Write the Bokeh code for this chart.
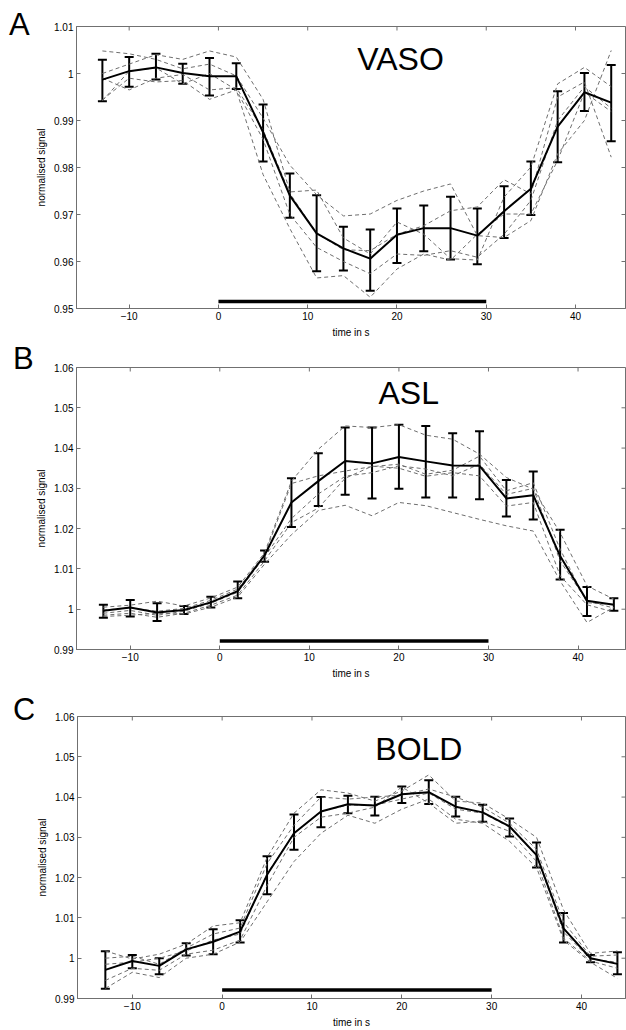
import math
from bokeh.plotting import figure
from bokeh.layouts import column, row
from bokeh.models import (ColumnDataSource, Whisker, TeeHead, FixedTicker,
                          CustomJSTickFormatter, Label, Range1d, Div)
from bokeh.embed import file_html
from bokeh.resources import INLINE

# ---------------- data ----------------
time_s = [-13, -10, -7, -4, -1, 2, 5, 8, 11, 14, 17, 20, 23, 26, 29, 32, 35, 38, 41, 44]
x_ticks = [-10, 0, 10, 20, 30, 40]
stim_on = [0, 30]

# VASO
vaso_mean = [0.9987, 1.0005, 1.0013, 1.0001, 0.9994, 0.9994, 0.9875, 0.9740, 0.9660, 0.9628,
             0.9606, 0.9657, 0.9671, 0.9671, 0.9655, 0.9707, 0.9755, 0.9887, 0.9960, 0.9938]
vaso_upper = [1.0029, 1.0035, 1.0042, 1.0021, 1.0033, 1.0022, 0.9934, 0.9787, 0.9741, 0.9674,
              0.9668, 0.9713, 0.9719, 0.9738, 0.9713, 0.9760, 0.9813, 0.9962, 1.0001, 1.0018]
vaso_lower = [0.9941, 0.9972, 0.9987, 0.9978, 0.9953, 0.9967, 0.9813, 0.9693, 0.9579, 0.9581,
              0.9538, 0.9597, 0.9622, 0.9604, 0.9594, 0.9650, 0.9699, 0.9811, 0.9920, 0.9856]
vaso_subj_1 = [1.0048, 1.0042, 1.0030, 1.0010, 1.0020, 0.9995, 0.9905, 0.9805, 0.9742, 0.9697,
               0.9701, 0.9730, 0.9750, 0.9765, 0.9655, 0.9651, 0.9687, 0.9829, 0.9900, 1.0049]
vaso_subj_2 = [1.0000, 1.0020, 1.0040, 1.0030, 1.0048, 1.0035, 0.9945, 0.9748, 0.9752, 0.9650,
               0.9616, 0.9684, 0.9658, 0.9606, 0.9603, 0.9737, 0.9801, 0.9978, 1.0013, 0.9972]
vaso_subj_3 = [0.9990, 0.9965, 0.9990, 0.9998, 0.9965, 0.9970, 0.9880, 0.9745, 0.9660, 0.9625,
               0.9623, 0.9658, 0.9676, 0.9708, 0.9716, 0.9774, 0.9744, 0.9950, 0.9982, 0.9822]
vaso_subj_4 = [0.9944, 0.9990, 0.9982, 0.9985, 0.9945, 0.9965, 0.9860, 0.9700, 0.9630, 0.9600,
               0.9574, 0.9616, 0.9613, 0.9623, 0.9609, 0.9658, 0.9730, 0.9900, 0.9972, 0.9926]
vaso_subj_5 = [0.9942, 1.0005, 1.0012, 0.9978, 1.0000, 0.9965, 0.9785, 0.9670, 0.9565, 0.9570,
               0.9524, 0.9584, 0.9616, 0.9603, 0.9658, 0.9701, 0.9701, 0.9815, 0.9960, 0.9919]
vaso_yticks = [0.95, 0.96, 0.97, 0.98, 0.99, 1.0, 1.01]

# ASL
asl_mean = [0.9996, 1.0004, 0.9992, 0.9998, 1.0017, 1.0045, 1.0134, 1.0265, 1.0318, 1.0368,
            1.0362, 1.0378, 1.0367, 1.0357, 1.0356, 1.0275, 1.0283, 1.0132, 1.0021, 1.0011]
asl_upper = [1.0011, 1.0023, 1.0015, 1.0008, 1.0031, 1.0069, 1.0146, 1.0325, 1.0387, 1.0451,
             1.0451, 1.0458, 1.0455, 1.0437, 1.0442, 1.0321, 1.0342, 1.0197, 1.0055, 1.0027]
asl_lower = [0.9979, 0.9982, 0.9971, 0.9988, 1.0004, 1.0027, 1.0118, 1.0204, 1.0256, 1.0284,
             1.0275, 1.0299, 1.0277, 1.0277, 1.0273, 1.0230, 1.0223, 1.0074, 0.9983, 0.9996]
asl_subj_1 = [1.0005, 1.0010, 1.0020, 1.0008, 1.0028, 1.0055, 1.0140, 1.0318, 1.0397, 1.0455,
              1.0451, 1.0458, 1.0432, 1.0422, 1.0385, 1.0327, 1.0298, 1.0190, 1.0058, 1.0025]
asl_subj_2 = [0.9998, 1.0003, 0.9995, 1.0002, 1.0022, 1.0050, 1.0135, 1.0312, 1.0331, 1.0343,
              1.0354, 1.0360, 1.0335, 1.0345, 1.0380, 1.0294, 1.0314, 1.0149, 1.0016, 1.0012]
asl_subj_3 = [0.9990, 0.9997, 0.9985, 0.9995, 1.0015, 1.0042, 1.0130, 1.0225, 1.0286, 1.0330,
              1.0339, 1.0356, 1.0348, 1.0331, 1.0360, 1.0285, 1.0300, 1.0120, 1.0020, 1.0003]
asl_subj_4 = [0.9985, 0.9990, 0.9980, 0.9990, 1.0010, 1.0035, 1.0120, 1.0215, 1.0251, 1.0325,
              1.0355, 1.0350, 1.0330, 1.0339, 1.0331, 1.0256, 1.0265, 1.0083, 1.0011, 0.9993]
asl_subj_5 = [0.9982, 0.9985, 0.9990, 0.9988, 1.0005, 1.0030, 1.0112, 1.0185, 1.0245, 1.0258,
              1.0232, 1.0265, 1.0257, 1.0240, 1.0223, 1.0207, 1.0194, 1.0070, 0.9967, 1.0005]

# BOLD
bold_mean = [0.9971, 0.9993, 0.9981, 1.0022, 1.0041, 1.0066, 1.0207, 1.0310, 1.0364, 1.0382,
             1.0379, 1.0407, 1.0412, 1.0376, 1.0362, 1.0327, 1.0256, 1.0074, 1.0000, 0.9986]
bold_upper = [1.0017, 1.0008, 1.0000, 1.0037, 1.0072, 1.0094, 1.0253, 1.0357, 1.0400, 1.0403,
              1.0401, 1.0426, 1.0442, 1.0401, 1.0381, 1.0347, 1.0287, 1.0112, 1.0008, 1.0015]
bold_lower = [0.9924, 0.9975, 0.9960, 1.0007, 1.0010, 1.0039, 1.0159, 1.0269, 1.0325, 1.0360,
              1.0354, 1.0385, 1.0383, 1.0352, 1.0339, 1.0302, 1.0225, 1.0039, 0.9990, 0.9960]
bold_subj_1 = [1.0018, 0.9998, 1.0010, 1.0035, 1.0080, 1.0088, 1.0250, 1.0360, 1.0418, 1.0410,
               1.0390, 1.0415, 1.0455, 1.0390, 1.0385, 1.0345, 1.0300, 1.0120, 1.0012, 1.0018]
bold_subj_2 = [1.0000, 1.0005, 0.9985, 1.0025, 1.0060, 1.0075, 1.0235, 1.0330, 1.0400, 1.0395,
               1.0400, 1.0405, 1.0420, 1.0400, 1.0375, 1.0335, 1.0270, 1.0090, 1.0005, 1.0008]
bold_subj_3 = [0.9985, 0.9990, 1.0000, 1.0018, 1.0045, 1.0060, 1.0210, 1.0310, 1.0365, 1.0380,
               1.0380, 1.0395, 1.0410, 1.0370, 1.0360, 1.0325, 1.0255, 1.0065, 0.9998, 0.9990]
bold_subj_4 = [0.9945, 0.9975, 0.9970, 1.0010, 1.0020, 1.0045, 1.0180, 1.0300, 1.0350, 1.0360,
               1.0375, 1.0425, 1.0385, 1.0335, 1.0340, 1.0315, 1.0240, 1.0050, 0.9993, 0.9975]
bold_subj_5 = [0.9925, 0.9965, 0.9952, 1.0000, 1.0010, 1.0040, 1.0140, 1.0240, 1.0310, 1.0355,
               1.0335, 1.0370, 1.0395, 1.0345, 1.0335, 1.0290, 1.0225, 1.0045, 0.9990, 0.9950]
percent_yticks = [0.99, 1.0, 1.01, 1.02, 1.03, 1.04, 1.05, 1.06]

FONT = "Liberation Sans"
FRAME_COL = "#707070"
LETTER_W = 33


def make_panel(letter, name, name_xy, mean, upper, lower, subjects, yrange, yticks,
               stim_y, xrange, height, b_left, b_top, b_bottom, letter_pad):
    p = figure(width=626 - LETTER_W, height=height, output_backend="svg",
               toolbar_location=None, margin=0,
               x_range=Range1d(*xrange), y_range=Range1d(*yrange),
               min_border_left=b_left - LETTER_W, min_border_right=1,
               min_border_top=b_top, min_border_bottom=b_bottom,
               x_axis_label="time in s", y_axis_label="normalised signal")
    p.grid.visible = False
    p.outline_line_color = FRAME_COL
    p.outline_line_width = 1
    p.background_fill_color = "white"
    p.border_fill_color = "white"

    fmt = CustomJSTickFormatter(code="return String(Math.round(tick*100)/100);")
    for ax in p.xaxis:
        ax.ticker = FixedTicker(ticks=x_ticks)
        ax.axis_label_standoff = 4
    for ax in p.yaxis:
        ax.ticker = FixedTicker(ticks=yticks)
        ax.formatter = fmt
        ax.axis_label_standoff = 4
    for ax in list(p.xaxis) + list(p.yaxis):
        ax.major_tick_in = 4
        ax.major_tick_out = 0
        ax.minor_tick_in = 0
        ax.minor_tick_out = 0
        ax.axis_line_color = FRAME_COL
        ax.major_tick_line_color = FRAME_COL
        ax.major_label_text_font = FONT
        ax.major_label_text_font_size = "10px"
        ax.major_label_text_color = "black"
        ax.axis_label_text_font = FONT
        ax.axis_label_text_font_size = "10px"
        ax.axis_label_text_font_style = "normal"
        ax.axis_label_text_color = "black"
        ax.major_label_standoff = 3

    # inward ticks on the top and right edges of the box (half of each dash is clipped)
    p.scatter(x_ticks, [yrange[1]] * len(x_ticks), marker="dash", size=8,
              angle=math.pi / 2, line_color=FRAME_COL, line_width=1)
    p.scatter([xrange[1]] * len(yticks), yticks, marker="dash", size=8,
              line_color=FRAME_COL, line_width=1)

    for s in subjects:
        p.line(time_s, s, line_color="#6e6e6e", line_width=1, line_dash="4 3")

    src = ColumnDataSource(dict(t=time_s, m=mean, up=upper, lo=lower))
    wh = Whisker(base="t", upper="up", lower="lo", source=src, dimension="height",
                 line_color="black", line_width=2,
                 upper_head=TeeHead(size=9, line_color="black", line_width=2),
                 lower_head=TeeHead(size=9, line_color="black", line_width=2))
    p.add_layout(wh)
    p.line("t", "m", source=src, line_color="black", line_width=2)

    p.line(stim_on, [stim_y, stim_y], line_color="black", line_width=3.5, line_cap="butt")

    p.add_layout(Label(x=name_xy[0], y=name_xy[1], text=name, text_align="center",
                       text_baseline="middle", text_font=FONT, text_font_size="32px",
                       text_color="black"))

    div = Div(width=LETTER_W, height=height, margin=0,
              text=('<div style="font-family: \'Liberation Sans\', Arial, sans-serif; '
                    'font-size: 31px; line-height: 31px; color: black; margin: 0; '
                    'padding: %dpx 0 0 %dpx;">%s</div>' % (letter_pad[1], letter_pad[0], letter)))
    return row(div, p, spacing=0, margin=0)


pA = make_panel("A", "VASO", (20.4, 1.0031), vaso_mean, vaso_upper, vaso_lower,
                [vaso_subj_1, vaso_subj_2, vaso_subj_3, vaso_subj_4, vaso_subj_5],
                (0.95, 1.01), vaso_yticks, 0.95149, (-15.9, 45.6),
                343, 72, 26, 35, (9, 9))
pB = make_panel("B", "ASL", (21.1, 1.0536), asl_mean, asl_upper, asl_lower,
                [asl_subj_1, asl_subj_2, asl_subj_3, asl_subj_4, asl_subj_5],
                (0.99, 1.06), percent_yticks, 0.9921, (-16.0, 45.3),
                347, 73, 24, 41, (13, 0))
pC = make_panel("C", "BOLD", (21.9, 1.0519), bold_mean, bold_upper, bold_lower,
                [bold_subj_1, bold_subj_2, bold_subj_3, bold_subj_4, bold_subj_5],
                (0.99, 1.06), percent_yticks, 0.9921, (-16.1, 44.9),
                340, 77, 26, 32, (13, 4))

layout = column(pA, pB, pC, spacing=0, margin=0)
open("out.html", "w").write(file_html(layout, INLINE))
